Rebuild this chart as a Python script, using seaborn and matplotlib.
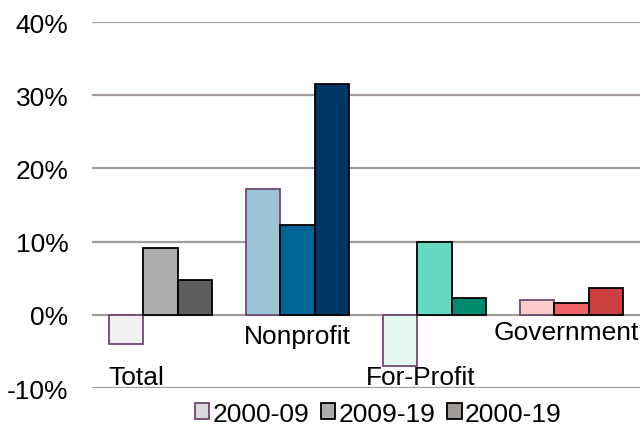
import numpy as np
import pandas as pd
import matplotlib
matplotlib.use("Agg")
import matplotlib.pyplot as plt
from matplotlib.patches import Patch
import seaborn as sns

# Data
sectors = ["Total", "Nonprofit", "For-Profit", "Government"]
periods = ["2000-09", "2009-19", "2000-19"]
change_0009 = [-4.0, 17.2, -7.0, 2.0]
change_0919 = [9.1, 12.3, 9.9, 1.6]
change_0019 = [4.8, 31.6, 2.3, 3.6]

df = pd.DataFrame({
    "sector": sectors * 3,
    "period": [periods[0]] * 4 + [periods[1]] * 4 + [periods[2]] * 4,
    "change": change_0009 + change_0919 + change_0019,
})

# colours per sector, one per period
bar_colors = {
    "Total": ["#F0F0F0", "#ADADAD", "#5F5F5F"],
    "Nonprofit": ["#9DC3D6", "#006595", "#003865"],
    "For-Profit": ["#E2F8F1", "#66D9C0", "#008A70"],
    "Government": ["#FFCCCC", "#EE6464", "#CC3F3F"],
}
legend_colors = ["#D9D9D9", "#ADADAD", "#A09A96"]
purple = "#6E4A6E"

sns.set_style("white")
plt.rcParams["font.family"] = ["Arial", "Liberation Sans", "DejaVu Sans"]
plt.rcParams["text.color"] = "black"
plt.rcParams["ytick.color"] = "black"

fig = plt.figure(figsize=(6.41, 4.31), dpi=100)
ax = fig.add_axes([0.1435, 0.0974, 0.855, 0.8492])

sns.barplot(data=df, x="sector", y="change", hue="period", order=sectors,
            hue_order=periods, width=0.755, legend=False, ax=ax)

for j, cont in enumerate(ax.containers):
    for i, bar in enumerate(cont):
        bar.set_facecolor(bar_colors[sectors[i]][j])
        bar.set_edgecolor(purple if j == 0 else "black")
        bar.set_linewidth(1.3)
        bar.set_zorder(3)

ax.set_ylim(-10, 40)
ax.set_xlim(-0.5, 3.5)
ax.set_yticks(np.arange(-10, 41, 10))
ax.set_yticklabels([f"{t}%" for t in range(-10, 41, 10)], fontsize=19)
ax.yaxis.grid(True, color="#A39C98", linewidth=1.6)
ax.set_axisbelow(True)
ax.tick_params(axis="y", length=0, pad=17)
ax.set_xticks([])
ax.set_xlabel("")
ax.set_ylabel("")
for s in ax.spines.values():
    s.set_visible(False)

# category labels inside the plot
label_pos = {
    "Total": (-0.38, -8.5, "left"),
    "Nonprofit": (1.0, -2.9, "center"),
    "For-Profit": (1.9, -8.5, "center"),
    "Government": (2.96, -2.3, "center"),
}
for name, (x, y, ha) in label_pos.items():
    ax.text(x, y, name, ha=ha, va="center", fontsize=19, zorder=4)

handles = [Patch(facecolor=legend_colors[k], edgecolor=purple if k == 0 else "black",
                 linewidth=1.3, label=periods[k]) for k in range(3)]
fig.legend(handles=handles, loc="lower center", bbox_to_anchor=(0.59, -0.045),
           ncol=3, frameon=False, fontsize=19, handlelength=0.55, handleheight=0.55,
           handletextpad=0.12, columnspacing=0.45)

fig.savefig("out.png", dpi=100)
